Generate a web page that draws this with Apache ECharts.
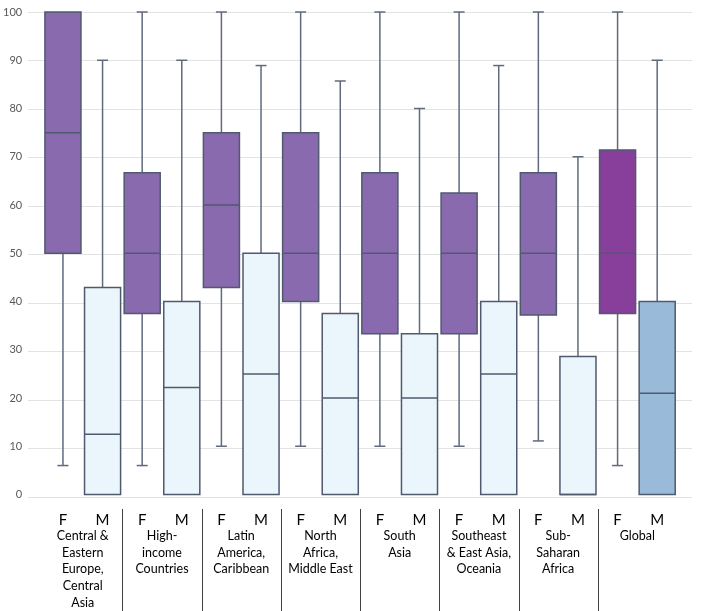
<!DOCTYPE html>
<html>
<head>
<meta charset="utf-8">
<script src="https://cdn.jsdelivr.net/npm/echarts@6/dist/echarts.min.js"></script>
<style>
  html, body { margin: 0; padding: 0; background: #fff; }
  #chart { width: 701px; height: 611px; }
</style>
</head>
<body>
<div id="chart"></div>
<script>
// regions (x groups), with line breaks as on the original axis
var regions = [
    'Central &\nEastern\nEurope,\nCentral\nAsia',
    'High-\nincome\nCountries',
    'Latin\nAmerica,\nCaribbean',
    'North\nAfrica,\nMiddle East',
    'South\nAsia',
    'Southeast\n& East Asia,\nOceania',
    'Sub-\nSaharan\nAfrica',
    'Global'
];
var sexes = ['F', 'M'];

// [min, q1, median, q3, max] per region
var femaleStats = [
    [6, 50, 75, 100, 100],
    [6, 37.5, 50, 66.7, 100],
    [10, 42.9, 60, 75, 100],
    [10, 40, 50, 75, 100],
    [10, 33.3, 50, 66.7, 100],
    [10, 33.3, 50, 62.5, 100],
    [11.1, 37.2, 50, 66.7, 100],
    [6, 37.5, 50, 71.4, 100]
];
var maleStats = [
    [0, 0, 12.5, 42.9, 90],
    [0, 0, 22.2, 40, 90],
    [0, 0, 25, 50, 88.9],
    [0, 0, 20, 37.5, 85.7],
    [0, 0, 20, 33.3, 80],
    [0, 0, 25, 40, 88.9],
    [0, 0, 0, 28.6, 70],
    [0, 0, 21, 40, 90]
];

var yTicks = { min: 0, max: 100, interval: 10 };

// styles
var femaleFill = '#8A6AAE', maleFill = '#EAF6FC';
var globalFemaleFill = '#873F9B', globalMaleFill = '#9ABADA';
var borderColor = '#4F5A6E', whiskerColor = '#5F6A7D';
var font = 'Lato, "Open Sans", sans-serif';

// build 16 categories and the box rows
var categories = [];
var boxData = [];
regions.forEach(function (r, i) {
    sexes.forEach(function (s, j) {
        var idx = categories.length;
        categories.push(i + '|' + s);
        var st = j === 0 ? femaleStats[i] : maleStats[i];
        boxData.push([idx].concat(st));
    });
});

function fillFor(idx) {
    var last = idx >= categories.length - 2;
    if (idx % 2 === 0) return last ? globalFemaleFill : femaleFill;
    return last ? globalMaleFill : maleFill;
}

function renderBox(params, api) {
    var x = api.value(0);
    var pMin = api.coord([x, api.value(1)]);
    var pQ1 = api.coord([x, api.value(2)]);
    var pMed = api.coord([x, api.value(3)]);
    var pQ3 = api.coord([x, api.value(4)]);
    var pMax = api.coord([x, api.value(5)]);
    var band = api.size([1, 0])[0];
    var w = band * 0.91;
    var cap = 11;
    var cx = pMed[0];
    var lineStyle = { stroke: whiskerColor, lineWidth: 1.5 };
    var children = [];
    if (pMax[1] < pQ3[1] - 0.5) {
        children.push({ type: 'line', shape: { x1: cx, y1: pQ3[1], x2: cx, y2: pMax[1] }, style: lineStyle });
        children.push({ type: 'line', shape: { x1: cx - cap / 2, y1: pMax[1], x2: cx + cap / 2, y2: pMax[1] }, style: lineStyle });
    }
    if (pMin[1] > pQ1[1] + 0.5) {
        children.push({ type: 'line', shape: { x1: cx, y1: pQ1[1], x2: cx, y2: pMin[1] }, style: lineStyle });
        children.push({ type: 'line', shape: { x1: cx - cap / 2, y1: pMin[1], x2: cx + cap / 2, y2: pMin[1] }, style: lineStyle });
    }
    children.push({
        type: 'rect',
        shape: { x: cx - w / 2, y: pQ3[1], width: w, height: pQ1[1] - pQ3[1] },
        style: { fill: fillFor(x), stroke: borderColor, lineWidth: 1.5 }
    });
    children.push({
        type: 'line',
        shape: { x1: cx - w / 2, y1: pMed[1], x2: cx + w / 2, y2: pMed[1] },
        style: { stroke: borderColor, lineWidth: 1.5 }
    });
    return { type: 'group', children: children };
}

var chart = echarts.init(document.getElementById('chart'));
var option = {
    animation: false,
    backgroundColor: '#fff',
    textStyle: { fontFamily: font },
    grid: [
        { left: 43, right: 24, top: 12, bottom: 114 },
        { left: 28, right: 9, top: 12, bottom: 114 }
    ],
    xAxis: [
        {
            type: 'category',
            gridIndex: 0,
            data: categories,
            position: 'bottom',
            axisLine: { show: false },
            axisTick: { show: false },
            axisLabel: {
                interval: 0,
                margin: 18,
                fontSize: 15,
                color: '#000',
                fontFamily: font,
                formatter: function (v) { return v.split('|')[1]; }
            }
        },
        {
            type: 'category',
            gridIndex: 0,
            data: regions,
            position: 'bottom',
            axisLine: { show: false },
            axisTick: { show: false },
            axisLabel: {
                interval: 0,
                margin: 33,
                fontSize: 12.5,
                lineHeight: 16.7,
                color: '#000',
                fontFamily: font
            }
        },
        {
            type: 'value',
            gridIndex: 1,
            show: false
        }
    ],
    yAxis: [
        {
            type: 'value',
            gridIndex: 0,
            min: yTicks.min,
            max: yTicks.max,
            interval: yTicks.interval,
            axisLine: { show: false },
            axisTick: { show: false },
            splitLine: { show: false },
            axisLabel: { margin: 21, fontSize: 11, color: '#595959', fontFamily: font }
        },
        {
            type: 'value',
            gridIndex: 1,
            min: yTicks.min,
            max: yTicks.max,
            interval: yTicks.interval,
            axisLine: { show: false },
            axisTick: { show: false },
            axisLabel: { show: false },
            splitLine: { lineStyle: { color: '#E3E3E3', width: 1 } }
        }
    ],
    series: [
        {
            type: 'custom',
            xAxisIndex: 0,
            yAxisIndex: 0,
            renderItem: renderBox,
            encode: { x: 0, y: [1, 2, 3, 4, 5] },
            data: boxData,
            z: 3
        }
    ]
};
chart.setOption(option);

// vertical separators between region groups, positioned from the category axis
var seps = [];
for (var k = 1; k < regions.length; k++) {
    var a = chart.convertToPixel({ xAxisIndex: 0 }, 2 * k - 1);
    var b = chart.convertToPixel({ xAxisIndex: 0 }, 2 * k);
    var sx = Math.round((a + b) / 2) + 0.5;
    seps.push({
        type: 'line',
        shape: { x1: sx, y1: 509, x2: sx, y2: 611 },
        style: { stroke: '#404040', lineWidth: 1 }
    });
}
chart.setOption({ graphic: seps });
</script>
</body>
</html>
